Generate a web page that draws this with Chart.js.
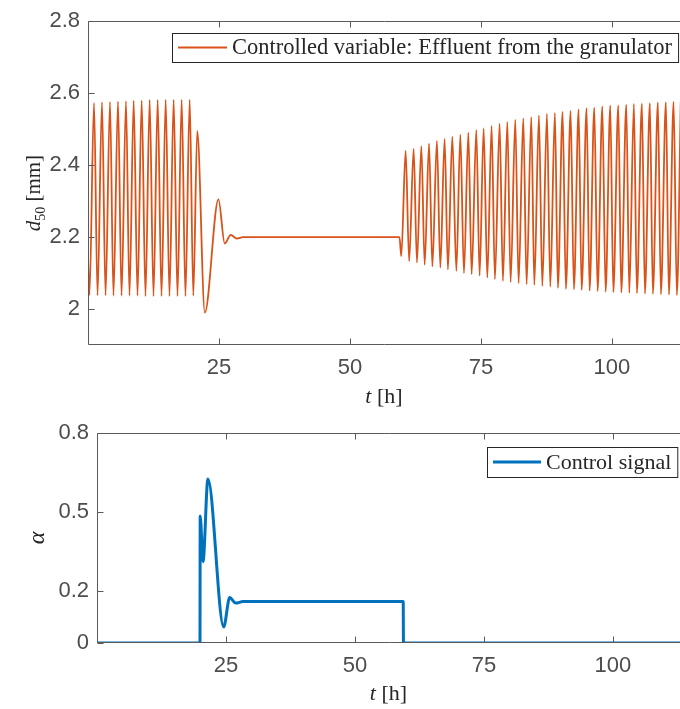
<!doctype html>
<html lang="en">
<head>
<meta charset="utf-8">
<title>Granulator control</title>
<script src="https://cdn.jsdelivr.net/npm/chart.js@4.4.1/dist/chart.umd.min.js"></script>
<style>
  html, body { margin: 0; padding: 0; background: #fff; }
  #wrap { position: relative; width: 680px; height: 709px; }
  .panel { position: absolute; left: 0; top: 0; width: 680px; height: 709px; }
</style>
</head>
<body>
<div id="wrap">
  <div class="panel"><canvas id="alphaChart"></canvas></div>
  <div class="panel"><canvas id="d50Chart"></canvas></div>
</div>
<script>
  // time axis ticks [h]
  const timeTicks = [25, 50, 75, 100];

  // d50 of the granulator effluent: start-up cycling, controller on at ~20 h
  const tStart = [0, 0.28, 1.15, 1.82, 2.67, 3.35, 4.2, 4.86, 5.73, 6.4, 7.25, 7.92,
                  8.72, 9.45, 10.25, 10.97, 11.77, 12.5, 13.3, 14.03, 14.83, 15.55,
                  16.35, 17.08, 17.88, 18.6, 19.41, 20.1, 20.85, 22.3, 24.9, 26.1,
                  27.25, 28.4, 29.6];
  const dStart = [2.14, 2.039, 2.573, 2.038, 2.575, 2.038, 2.576, 2.037, 2.577, 2.037, 2.578, 2.037,
                  2.579, 2.037, 2.58, 2.036, 2.581, 2.036, 2.581, 2.036, 2.582, 2.036,
                  2.582, 2.036, 2.582, 2.036, 2.582, 2.037, 2.495, 1.99, 2.305, 2.182,
                  2.206, 2.196, 2.2];

  // controller off at ~59.5 h: the oscillation builds up again
  const tEnd = [59.45, 59.8,
                60.63, 61.3, 62.16, 62.79, 63.63, 64.26, 65.1, 65.73, 66.6, 67.25,
                68.07, 68.7, 69.54, 70.31, 71.07, 71.76, 72.6, 73.23, 74.12, 74.75,
                75.52, 76.22, 77.04, 77.67, 78.57, 79.2, 80.04, 80.67, 81.56, 82.19,
                83.09, 83.72, 84.62, 85.19, 86.07, 86.72, 87.6, 88.24, 89.12, 89.69,
                90.59, 91.22, 92.12, 92.75, 93.65, 94.22, 95.17, 95.74, 96.64, 97.27,
                98.17, 98.8, 99.69, 100.27, 101.22, 101.79, 102.75, 103.32, 104.2, 104.77,
                105.73, 106.3, 107.25, 107.82, 108.78, 109.35, 110.31, 110.88, 111.78, 112.4,
                113.15];
  const dEnd = [2.2, 2.147,
                2.44, 2.133, 2.446, 2.129, 2.453, 2.123, 2.46, 2.118, 2.467, 2.115,
                2.473, 2.11, 2.479, 2.106, 2.485, 2.1, 2.49, 2.097, 2.497, 2.093,
                2.502, 2.087, 2.509, 2.083, 2.515, 2.078, 2.52, 2.075, 2.526, 2.072,
                2.53, 2.069, 2.533, 2.067, 2.538, 2.064, 2.542, 2.062, 2.545, 2.059,
                2.548, 2.056, 2.551, 2.055, 2.555, 2.053, 2.558, 2.051, 2.56, 2.05,
                2.563, 2.048, 2.565, 2.047, 2.566, 2.046, 2.568, 2.045, 2.57, 2.044,
                2.571, 2.043, 2.572, 2.042, 2.574, 2.041, 2.575, 2.04, 2.576, 2.039,
                2.577];
  const d50Ticks = [2, 2.2, 2.4, 2.6, 2.8];

  // control signal alpha
  const tCtrl = [0, 19.96, 20.0, 20.55, 21.5, 24.55, 25.72, 26.88, 28.3, 59.35, 59.4, 113];
  const alpha = [0, 0, 0.484, 0.31, 0.625, 0.061, 0.173, 0.152, 0.158, 0.158, 0, 0];
  const alphaTicks = [0, 0.2, 0.5, 0.8];

  const toPoints = (ts, vs) => ts.map((t, i) => ({ x: t, y: vs[i] }));

  const tickFont = { family: 'Liberation Sans', size: 22 };
  const tickColor = '#4d4d4d';
  const serif = 'Liberation Serif';
  const axisColor = '#5a5a5a';

  // draw a row of text pieces with different fonts, centred on (x, y)
  function drawRuns(ctx, runs, x, y) {
    let w = 0;
    runs.forEach(r => { ctx.font = r.font; r.w = ctx.measureText(r.text).width; w += r.w; });
    let cx = x - w / 2;
    ctx.textAlign = 'left';
    ctx.textBaseline = 'alphabetic';
    runs.forEach(r => { ctx.font = r.font; ctx.fillText(r.text, cx, y + (r.dy || 0)); cx += r.w; });
  }

  // MATLAB-style box with inward ticks, axis labels and a boxed legend
  const framePlugin = {
    id: 'frame',
    afterDraw(chart, args, opts) {
      const ctx = chart.ctx, a = chart.chartArea;
      const xs = chart.scales.x, ys = chart.scales.y;
      const L = Math.round(a.left) + 0.5, T = Math.round(a.top) + 0.5;
      const B = Math.round(a.bottom) - 0.5, R = a.right + 2;
      ctx.save();
      ctx.strokeStyle = axisColor;
      ctx.lineWidth = 1;
      ctx.beginPath();
      ctx.moveTo(R, T); ctx.lineTo(L, T); ctx.lineTo(L, B); ctx.lineTo(R, B);
      xs.ticks.forEach(t => {
        const px = Math.round(xs.getPixelForValue(t.value)) + 0.5;
        ctx.moveTo(px, B); ctx.lineTo(px, B - 6);
        ctx.moveTo(px, T); ctx.lineTo(px, T + 6);
      });
      ys.ticks.forEach(t => {
        const py = Math.round(ys.getPixelForValue(t.value)) + 0.5;
        ctx.moveTo(L, py); ctx.lineTo(L + 6, py);
      });
      ctx.stroke();

      // axis titles
      ctx.fillStyle = '#262626';
      const midX = (a.left + a.right) / 2, midY = (a.top + a.bottom) / 2;
      drawRuns(ctx, [
        { text: 't', font: `italic 22px "${serif}"` },
        { text: ' [h]', font: `22px "${serif}"` }
      ], midX, a.bottom + opts.xTitleY);
      ctx.save();
      ctx.translate(opts.yTitleX, midY + opts.yTitleShift);
      ctx.rotate(-Math.PI / 2);
      drawRuns(ctx, opts.yTitle, 0, 0);
      ctx.restore();

      // legend
      const lg = opts.legend, ds = chart.data.datasets[0];
      ctx.font = `${lg.size}px "${serif}"`;
      const textW = ctx.measureText(ds.label).width;
      const right = lg.textX + textW + 6;
      ctx.fillStyle = '#fff';
      ctx.fillRect(lg.left, lg.top, right - lg.left, lg.height);
      ctx.strokeStyle = '#262626';
      ctx.strokeRect(lg.left + 0.5, lg.top + 0.5, right - lg.left, lg.height);
      const ly = lg.top + lg.height / 2;
      ctx.strokeStyle = ds.borderColor;
      ctx.lineWidth = ds.borderWidth;
      ctx.beginPath();
      ctx.moveTo(lg.left + 6, ly); ctx.lineTo(lg.textX - 5, ly);
      ctx.stroke();
      ctx.fillStyle = '#262626';
      ctx.textAlign = 'left';
      ctx.textBaseline = 'middle';
      ctx.fillText(ds.label, lg.textX, ly + 1);
      ctx.restore();
    }
  };

  function makeOptions(p) {
    return {
      responsive: true,
      maintainAspectRatio: false,
      animation: false,
      layout: { padding: { top: p.top, left: 0, right: 0, bottom: 0 } },
      elements: { point: { radius: 0 } },
      plugins: { legend: { display: false }, tooltip: { enabled: false }, frame: p.frame },
      scales: {
        x: {
          type: 'linear', min: 0, max: 113,
          grid: { display: false, drawTicks: false },
          border: { display: false },
          afterBuildTicks: s => { s.ticks = timeTicks.map(v => ({ value: v })); },
          afterFit: s => { s.height = p.xHeight; },
          ticks: { font: tickFont, color: tickColor, padding: 10, maxRotation: 0 }
        },
        y: {
          min: p.yMin, max: p.yMax,
          grid: { display: false, drawTicks: false },
          border: { display: false },
          afterBuildTicks: s => { s.ticks = p.yTicks.map(v => ({ value: v })); },
          afterFit: s => { s.width = p.yWidth; },
          ticks: { font: tickFont, color: tickColor, padding: 8, callback: v => String(v) }
        }
      }
    };
  }

  new Chart(document.getElementById('d50Chart'), {
    type: 'line',
    data: {
      datasets: [{
        label: 'Controlled variable: Effluent from the granulator',
        data: toPoints(tStart.concat(tEnd), dStart.concat(dEnd)),
        borderColor: '#D95319',
        borderWidth: 1.8,
        cubicInterpolationMode: 'monotone'
      }]
    },
    options: makeOptions({
      top: 21, xHeight: 364, yWidth: 88, yMin: 1.9, yMax: 2.8, yTicks: d50Ticks,
      frame: {
        xTitleY: 58, yTitleX: 40, yTitleShift: 10,
        yTitle: [
          { text: 'd', font: `italic 21px "${serif}"` },
          { text: '50', font: `14px "${serif}"`, dy: 5 },
          { text: ' [mm]', font: `21px "${serif}"` }
        ],
        legend: { left: 172, top: 33, height: 29, textX: 232, size: 22.5 }
      }
    }),
    plugins: [framePlugin]
  });

  new Chart(document.getElementById('alphaChart'), {
    type: 'line',
    data: {
      datasets: [{
        label: 'Control signal',
        data: toPoints(tCtrl, alpha),
        borderColor: '#0072BD',
        borderWidth: 3,
        cubicInterpolationMode: 'monotone'
      }]
    },
    options: makeOptions({
      top: 433, xHeight: 66, yWidth: 97, yMin: 0, yMax: 0.8, yTicks: alphaTicks,
      frame: {
        xTitleY: 57, yTitleX: 44, yTitleShift: 0,
        yTitle: [{ text: 'α', font: `italic 24px "${serif}"` }],
        legend: { left: 487, top: 447, height: 30, textX: 546, size: 22 }
      }
    }),
    plugins: [framePlugin]
  });
</script>
</body>
</html>
